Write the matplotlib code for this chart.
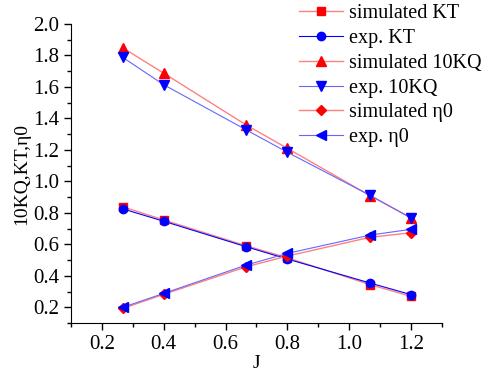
import numpy as np
from matplotlib import pyplot as plt
from matplotlib.ticker import MultipleLocator

plt.rcParams['font.family'] = ['Liberation Serif', 'DejaVu Serif']

J = [0.267, 0.4, 0.667, 0.8, 1.067, 1.2]
sim_kt = [0.839, 0.755, 0.591, 0.515, 0.345, 0.27]
exp_kt = [0.826, 0.747, 0.585, 0.507, 0.355, 0.281]
sim_10kq = [1.849, 1.687, 1.358, 1.21, 0.91, 0.768]
exp_10kq = [1.788, 1.614, 1.327, 1.185, 0.912, 0.768]
sim_eta = [0.193, 0.283, 0.458, 0.526, 0.645, 0.674]
exp_eta = [0.2, 0.289, 0.469, 0.543, 0.659, 0.696]

red = '#ff0000'
pink = '#ff8080'
blue = '#0000ff'
lblue = '#6666ff'

fig = plt.figure(figsize=(4.83, 3.74), dpi=100)
ax = fig.add_axes([0.147, 0.136, 0.768, 0.800])

ms = 6
ax.plot(J, sim_kt, color=pink, lw=1, marker='s', ms=ms-0.5, mfc=red, mec=red, label='simulated KT')
ax.plot(J, exp_kt, color=blue, lw=0.8, marker='o', ms=ms, mfc=blue, mec=blue, label='exp. KT')
ax.plot(J, sim_10kq, color=pink, lw=1, marker='^', ms=ms+0.5, mfc=red, mec=red, label='simulated 10KQ')
ax.plot(J, exp_10kq, color=lblue, lw=0.8, marker='v', ms=ms+0.5, mfc=blue, mec=blue, label='exp. 10KQ')
ax.plot(J, sim_eta, color=pink, lw=1, marker='D', ms=ms-1, mfc=red, mec=red, label='simulated η0')
ax.plot(J, exp_eta, color=lblue, lw=0.8, marker='<', ms=ms+0.5, mfc=blue, mec=blue, label='exp. η0')

ax.set_xlim(0.1, 1.3)
ax.set_ylim(0.1, 2.0)
ax.xaxis.set_minor_locator(MultipleLocator(0.1))
ax.yaxis.set_minor_locator(MultipleLocator(0.1))
ax.set_xticks([0.2, 0.4, 0.6, 0.8, 1.0, 1.2])
ax.set_yticks([0.2, 0.4, 0.6, 0.8, 1.0, 1.2, 1.4, 1.6, 1.8, 2.0])
ax.spines['top'].set_visible(False)
ax.spines['right'].set_visible(False)
ax.tick_params(which='major', length=5, width=1, direction='out', labelsize=15)
ax.tick_params(which='minor', length=3, width=1, direction='out')

ax.set_xlabel('J', fontsize=14, labelpad=1)
ax.set_ylabel('10KQ,KT,η0', fontsize=14, labelpad=2)

fig.legend(loc='upper left', bbox_to_anchor=(0.602, 1.01), frameon=False, fontsize=14.5,
           handlelength=2.2, handletextpad=0.3, labelspacing=0.28, borderaxespad=0)

fig.savefig('out.png', dpi=100)
